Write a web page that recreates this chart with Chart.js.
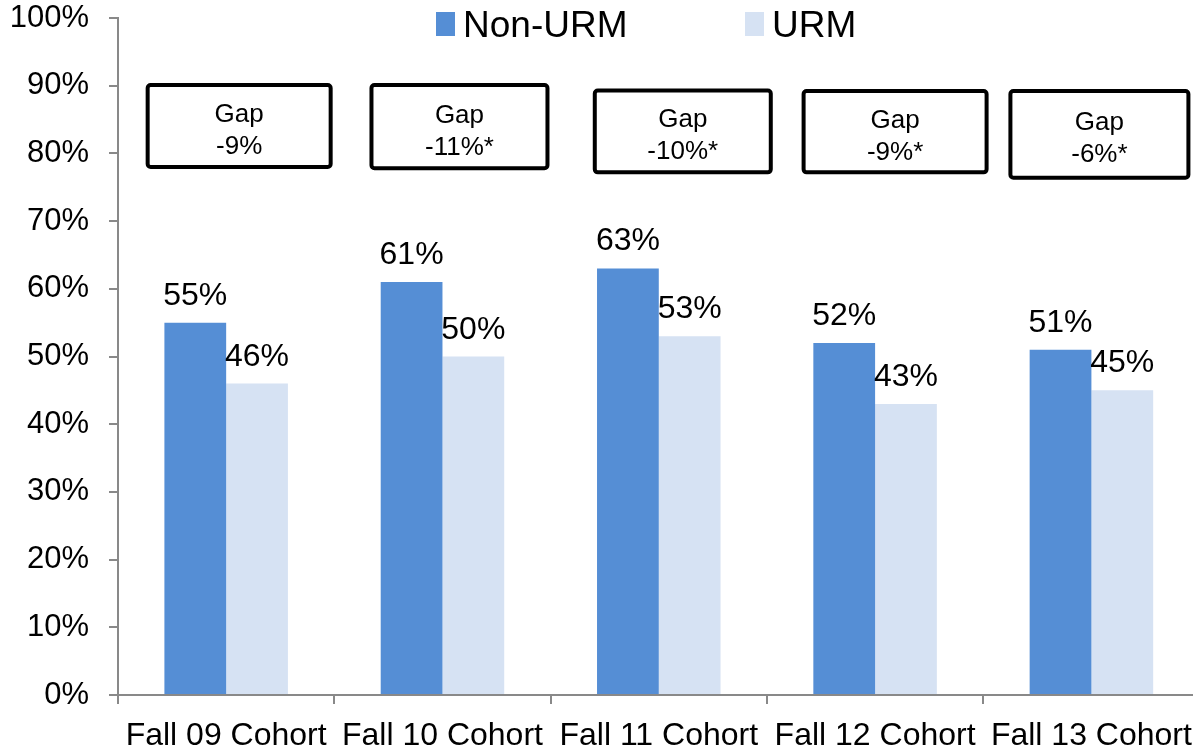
<!DOCTYPE html>
<html>
<head>
<meta charset="utf-8">
<script src="https://cdn.jsdelivr.net/npm/chart.js@4.4.0/dist/chart.umd.min.js"></script>
<style>
  html, body { margin: 0; padding: 0; background: #fff; overflow: hidden; }
  #wrap { width: 1205px; height: 748px; }
</style>
</head>
<body>
<div id="wrap"><canvas id="canvas-1" width="1205" height="748"></canvas></div>
<script>
  'use strict';

  var categories = ['Fall 09 Cohort', 'Fall 10 Cohort', 'Fall 11 Cohort', 'Fall 12 Cohort', 'Fall 13 Cohort'];
  var nonUrm = [55, 61, 63, 52, 51];
  var urm = [46, 50, 53, 43, 45];
  var gapLabels = ['-9%', '-11%*', '-10%*', '-9%*', '-6%*'];

  var FONT = 'Liberation Sans, Arial, sans-serif';
  var AXIS = '#898989';

  // where the gap boxes sit: dx from category centre (px), width (px), top/bottom in y units
  var gapBoxLayout = [
    { dx: 13, w: 183, top: 90.1, bottom: 78.0 },
    { dx: 17, w: 176, top: 90.1, bottom: 77.8 },
    { dx: 24, w: 176, top: 89.3, bottom: 77.2 },
    { dx: 20, w: 183, top: 89.2, bottom: 77.2 },
    { dx: 8,  w: 178, top: 89.2, bottom: 76.4 }
  ];

  var labelsPlugin = {
    id: 'valueLabels',
    afterDatasetsDraw: function(chart) {
      var ctx = chart.ctx;
      ctx.save();
      ctx.font = '32px ' + FONT;
      ctx.fillStyle = '#000';
      ctx.textAlign = 'center';
      ctx.textBaseline = 'alphabetic';
      chart.data.datasets.forEach(function(ds, i) {
        chart.getDatasetMeta(i).data.forEach(function(bar, j) {
          ctx.fillText(ds.data[j] + '%', bar.x, bar.y - 18);
        });
      });
      ctx.restore();
    }
  };

  var gapPlugin = {
    id: 'gapBoxes',
    afterDraw: function(chart) {
      var ctx = chart.ctx;
      var x = chart.scales.x, y = chart.scales.y;
      ctx.save();
      gapLabels.forEach(function(txt, i) {
        var b = gapBoxLayout[i];
        var cx = x.getPixelForValue(i) + b.dx;
        var top = y.getPixelForValue(b.top);
        var bottom = y.getPixelForValue(b.bottom);
        var cy = (top + bottom) / 2;
        ctx.fillStyle = '#fff';
        ctx.strokeStyle = '#000';
        ctx.lineWidth = 4;
        ctx.beginPath();
        ctx.roundRect(cx - b.w / 2, top, b.w, bottom - top, 3);
        ctx.fill();
        ctx.stroke();
        ctx.fillStyle = '#000';
        ctx.font = '26px ' + FONT;
        ctx.textAlign = 'center';
        ctx.textBaseline = 'alphabetic';
        ctx.fillText('Gap', cx, cy - 4);
        ctx.fillText(txt, cx, cy + 28);
      });
      ctx.restore();
    }
  };

  var legendPlugin = {
    id: 'topLegend',
    afterDraw: function(chart) {
      var ctx = chart.ctx;
      var left = chart.chartArea.left;
      var items = [{ off: 318 }, { off: 627 }];
      ctx.save();
      ctx.font = '37px ' + FONT;
      ctx.textBaseline = 'alphabetic';
      ctx.textAlign = 'left';
      chart.data.datasets.forEach(function(ds, i) {
        var mx = left + items[i].off;
        ctx.fillStyle = ds.backgroundColor;
        ctx.fillRect(mx, 12, 19, 24);
        ctx.fillStyle = '#000';
        ctx.fillText(ds.label, mx + 27, 37);
      });
      ctx.restore();
    }
  };

  var barChartData = {
    labels: categories,
    datasets: [
      {
        label: 'Non-URM',
        backgroundColor: '#558ED5',
        data: nonUrm
      },
      {
        label: 'URM',
        backgroundColor: '#D6E2F3',
        data: urm
      }
    ]
  };

  var ctx = document.getElementById('canvas-1');
  var chart = new Chart(ctx, {
    type: 'bar',
    data: barChartData,
    plugins: [labelsPlugin, gapPlugin, legendPlugin],
    options: {
      responsive: false,
      animation: false,
      layout: { padding: { left: 12, right: 1, top: 2, bottom: 0 } },
      datasets: {
        bar: { barPercentage: 1, categoryPercentage: 0.571 }
      },
      plugins: {
        legend: { display: false },
        tooltip: { enabled: false }
      },
      scales: {
        x: {
          offset: true,
          afterFit: function(scale) { scale.height = 53; },
          grid: { offset: true, drawOnChartArea: false, drawTicks: true, tickLength: 9, color: AXIS, lineWidth: 2 },
          border: { color: AXIS, width: 2 },
          ticks: { color: '#000', font: { family: FONT, size: 32 }, padding: 13, maxRotation: 0, autoSkip: false }
        },
        y: {
          min: 0,
          max: 100,
          afterFit: function(scale) {
            scale.width = 106;
            scale.paddingTop = 18;
            scale.paddingBottom = 0;
          },
          grid: { drawOnChartArea: false, drawTicks: true, tickLength: 9, color: AXIS, lineWidth: 2 },
          border: { color: AXIS, width: 2 },
          ticks: {
            stepSize: 10,
            color: '#000',
            padding: 20,
            font: { family: FONT, size: 31 },
            callback: function(v) { return v + '%'; }
          }
        }
      }
    }
  });
</script>
</body>
</html>
